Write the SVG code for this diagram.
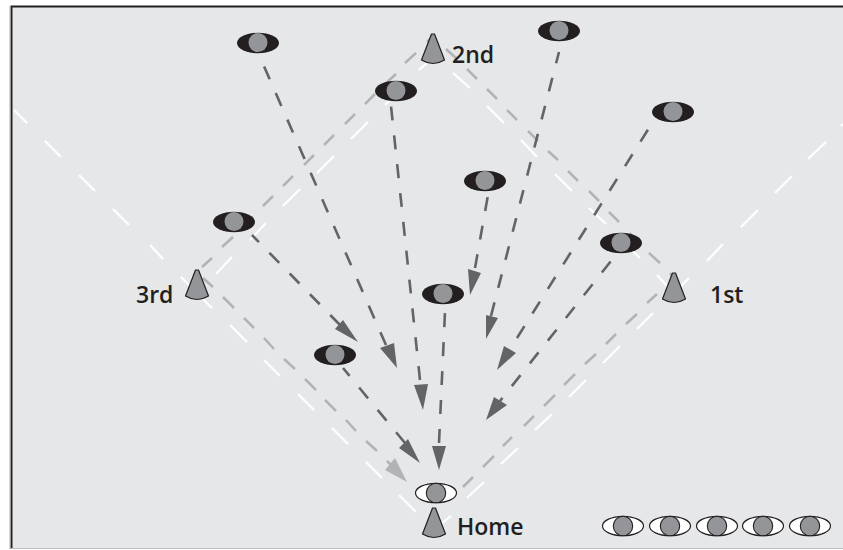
<svg xmlns="http://www.w3.org/2000/svg" xmlns:xlink="http://www.w3.org/1999/xlink" width="843" height="550" viewBox="0 0 843 550">
<style>
.wl{fill:none;stroke:#fff;stroke-width:2.2}
.gl{fill:none;stroke:#b1b3b6;stroke-width:2.5}
.da{fill:none;stroke:#636466;stroke-width:2.6;stroke-dasharray:14 15}
.dh{fill:#636466}
.lh{fill:#b1b3b6}
.cone{fill:#939598;stroke:#231f20;stroke-width:1.2;stroke-linejoin:round}
.ball{fill:#939598;stroke:none}
.balls{fill:#939598;stroke:#231f20;stroke-width:1.1}
.blk{fill:#231f20}
.wht{fill:#fff;stroke:#231f20;stroke-width:1.2}
text{font-family:"Open Sans","Liberation Sans",sans-serif;font-size:23px;font-weight:600;fill:#231f20}
</style>
<defs>
<path id="c" class="cone" d="M-1.5,0 L1.5,0 L11.5,26 Q0,33 -11.5,26 Z"/>
<g id="f"><ellipse class="blk" cx="0" cy="0" rx="21" ry="10.3"/><circle class="ball" cx="0" cy="-0.5" r="9.5"/></g>
<g id="o"><ellipse class="wht" cx="0" cy="0" rx="20.5" ry="9.7"/><circle class="balls" cx="0" cy="0" r="9.7"/></g>
</defs>
<rect x="0" y="0" width="843" height="550" fill="#fff"/>
<rect x="11" y="6" width="832" height="542" fill="#e6e7e8"/>
<path d="M11.5,549 V6.5 H843" fill="none" stroke="#231f20" stroke-width="2"/>
<path d="M10,6 V549" stroke="#a7a9ac" stroke-width="1" fill="none"/>
<path d="M11,548.5 H843" stroke="#bcbec0" stroke-width="1.2" fill="none"/>
<g id="connectors">
<path class="wl" d="M14,110L27,123M45,141L61,157M79,175L95,191M113,209L129,225M150,245L163,259M181,277L212,308M230,325L247,342M264,360L280,376M298,394L314,410M332,428L348,444M366,462L382,478M399,495L416,512"/>
<path class="wl" d="M442,523L451,516M467,498L484,482M501,464L518,448M535,430L552,414M569,397L586,380M603,363L620,346M637,329L653,313M671,296L689,278M707,261L723,244M741,227L758,210M775,193L792,176M808,159L826,142M841,126L843,124"/>
<path class="wl" d="M216,274L232,257M250,240L266,223M283,206L300,189M317,173L334,156M351,139L368,122M385,105L402,88M419,70L427,63"/>
<path class="wl" d="M453,73L470,88M487,106L504,123M521,140L537,157M555,174L572,191M589,208L606,224M623,242L640,258M657,275L668,287"/>
<path class="gl" d="M203,278L213,287M223,297L234,308M244,318L254,328M264,338L274,349M284,359L295,369M305,379L316,390M325,400L336,411M346,420L356,431M366,441L377,451M387,461L392,466"/>
<polygon class="lh" points="407,482 385,470 395,458"/>
<path class="gl" d="M202,267L212,258M222,247L233,237M243,227L253,217M263,206L273,196M283,186L293,176M304,165L314,155M324,145L334,135M345,124L355,114M365,104L375,94M385,84L396,74M405,63L416,53M427,42L432,37"/>
<path class="gl" d="M446,49L457,59M467,69L477,79M487,89L497,99M507,110L517,120M528,131L538,141M548,151L558,160M568,171L578,181M589,191L599,201M609,212L619,222M630,233L639,243M649,253L660,263M670,273L673,277"/>
<path class="gl" d="M463,487L473,477M483,467L494,456M503,446L512,437M524,426L534,416M544,406L555,395M564,385L575,374M585,364L596,354M606,344L616,334M626,324L637,314M647,303L657,294"/>
<path class="da" d="M386,345L263,64"/>
<polygon class="dh" points="397,368 380,348 394,343"/>
<path class="da" d="M420,380L391,106"/>
<polygon class="dh" points="423,410 414,385 428,384"/>
<path class="da" d="M491,316L559,52"/>
<polygon class="dh" points="486,339 486,315 498,318"/>
<path class="da" d="M517,338L649,128"/>
<polygon class="dh" points="497,370 504,346 516,353"/>
<path class="da" d="M475,268L488,195"/>
<polygon class="dh" points="470,295 468,269 481,273"/>
<path class="da" d="M340,325L252,235"/>
<polygon class="dh" points="358,342 335,329 343,320"/>
<path class="da" d="M439,443L445,312"/>
<polygon class="dh" points="439,470 432,446 446,446"/>
<path class="da" d="M405,443L343,368"/>
<polygon class="dh" points="420,463 399,448 408,439"/>
<path class="da" stroke-dashoffset="10" d="M500,401L611,261"/>
<polygon class="dh" points="486,420 494,397 507,405"/>
</g>
<g id="base-second"><use xlink:href="#c" x="433" y="34"/><text x="452" y="63">2nd</text></g>
<g id="base-third"><use xlink:href="#c" x="197" y="270"/><text x="136" y="303">3rd</text></g>
<g id="base-first"><use xlink:href="#c" x="674" y="273"/><text x="710" y="303">1st</text></g>
<g id="base-home"><use xlink:href="#c" x="434" y="508"/><text x="457" y="535">Home</text></g>
<g id="fielder-1"><use xlink:href="#f" x="258" y="43"/></g>
<g id="fielder-2"><use xlink:href="#f" x="396" y="91"/></g>
<g id="fielder-3"><use xlink:href="#f" x="559" y="31"/></g>
<g id="fielder-4"><use xlink:href="#f" x="673" y="112"/></g>
<g id="fielder-5"><use xlink:href="#f" x="485" y="181"/></g>
<g id="fielder-6"><use xlink:href="#f" x="234" y="222"/></g>
<g id="fielder-7"><use xlink:href="#f" x="621" y="243"/></g>
<g id="fielder-8"><use xlink:href="#f" x="443" y="294"/></g>
<g id="fielder-9"><use xlink:href="#f" x="335" y="355"/></g>
<g id="batter"><use xlink:href="#o" x="436" y="493"/></g>
<g id="team-1"><use xlink:href="#o" x="623" y="526"/></g>
<g id="team-2"><use xlink:href="#o" x="670" y="526"/></g>
<g id="team-3"><use xlink:href="#o" x="717" y="526"/></g>
<g id="team-4"><use xlink:href="#o" x="763" y="526"/></g>
<g id="team-5"><use xlink:href="#o" x="810" y="526"/></g>
</svg>
